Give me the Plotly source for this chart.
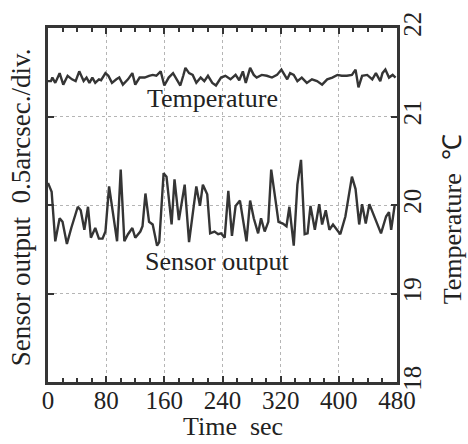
import plotly.graph_objects as go

# sensor output (drawn on the 18-22 scale of the right axis, 0.5 arcsec/div)
sensor_t = [0, 5, 10, 16, 20, 26, 32, 41, 45, 50, 55, 59, 65, 70, 75, 79, 84, 90, 95, 100,
            105, 110, 116, 120, 127, 130, 134, 139, 144, 150, 153, 159, 163, 170, 174, 180, 188, 194, 204, 209,
            213, 219, 223, 229, 234, 238, 243, 248, 253, 258, 264, 273, 278, 283, 289, 293, 298, 303, 307, 313,
            317, 323, 328, 332, 338, 343, 348, 353, 357, 361, 367, 373, 377, 382, 387, 392, 402, 409, 418, 423,
            428, 432, 437, 442, 448, 458, 465, 469, 472, 477]
sensor_v = [20.25, 20.15, 19.59, 19.85, 19.81, 19.56, 19.74, 19.98, 19.94, 19.72, 19.98, 19.63, 19.74, 19.62, 19.62, 19.70, 20.21, 19.87, 19.59, 20.40,
            19.59, 19.67, 19.74, 19.63, 19.70, 19.76, 20.13, 19.81, 19.78, 19.54, 19.58, 20.36, 20.32, 19.78, 20.29, 19.83, 20.23, 19.58, 20.21, 19.99,
            20.23, 20.12, 19.68, 19.70, 19.67, 19.68, 19.63, 20.16, 19.65, 19.99, 20.05, 19.59, 20.05, 19.85, 19.68, 19.85, 19.70, 19.81, 20.40, 20.05,
            19.81, 19.79, 19.76, 19.98, 19.54, 20.23, 20.51, 19.67, 19.68, 19.99, 19.72, 20.01, 19.78, 19.94, 19.72, 19.78, 19.67, 19.87, 20.32, 20.18,
            19.78, 20.01, 19.79, 20.01, 19.89, 19.68, 19.87, 19.92, 19.72, 20.01]

# temperature, deg C
temp_t = [0, 4, 6, 10, 16, 21, 27, 33, 38, 43, 49, 53, 57, 61, 65, 70, 73, 79, 83, 88,
          94, 98, 103, 110, 116, 120, 126, 133, 139, 144, 149, 155, 160, 166, 172, 178, 182, 186, 189, 194,
          199, 204, 210, 215, 220, 226, 231, 238, 244, 251, 258, 263, 268, 272, 278, 283, 287, 294, 301, 308,
          315, 321, 326, 329, 333, 338, 343, 349, 356, 363, 370, 377, 384, 391, 398, 404, 411, 418, 423, 427,
          432, 439, 446, 451, 457, 460, 464, 469, 474, 478]
temp_v = [21.40, 21.40, 21.44, 21.38, 21.49, 21.36, 21.46, 21.42, 21.40, 21.51, 21.40, 21.44, 21.38, 21.44, 21.38, 21.42, 21.41, 21.49, 21.46, 21.38,
          21.42, 21.44, 21.36, 21.42, 21.49, 21.36, 21.44, 21.44, 21.46, 21.47, 21.46, 21.51, 21.35, 21.44, 21.49, 21.40, 21.35, 21.46, 21.55, 21.49,
          21.47, 21.38, 21.44, 21.40, 21.46, 21.38, 21.35, 21.44, 21.46, 21.42, 21.47, 21.41, 21.51, 21.38, 21.55, 21.47, 21.44, 21.47, 21.46, 21.44,
          21.47, 21.53, 21.46, 21.42, 21.49, 21.47, 21.40, 21.44, 21.38, 21.42, 21.40, 21.36, 21.42, 21.44, 21.47, 21.46, 21.46, 21.47, 21.53, 21.33,
          21.46, 21.47, 21.42, 21.49, 21.40, 21.49, 21.53, 21.44, 21.47, 21.44]

x_ticks = [0, 80, 160, 240, 320, 400, 480]
y_ticks = [18, 19, 20, 21, 22]

FONT = "Liberation Serif, Times New Roman, serif"
INK = "#353535"

fig = go.Figure()
fig.add_trace(go.Scatter(x=temp_t, y=temp_v, mode="lines",
                         line=dict(color=INK, width=2.4), showlegend=False))
fig.add_trace(go.Scatter(x=sensor_t, y=sensor_v, mode="lines",
                         line=dict(color=INK, width=2.4), showlegend=False))

fig.update_xaxes(range=[0, 480], tickvals=x_ticks, ticktext=[str(v) for v in x_ticks],
                 ticks="inside", ticklen=6, tickcolor=INK, tickwidth=1.5,
                 minor=dict(dtick=20, ticks="inside", ticklen=4, tickcolor=INK, showgrid=False),
                 showline=True, linewidth=3, linecolor=INK, mirror="ticks",
                 showgrid=True, gridcolor="#b5b5b5", griddash="dot", gridwidth=1,
                 zeroline=False, ticklabelstandoff=-6,
                 tickfont=dict(family=FONT, size=25, color="#222"))
fig.update_yaxes(range=[18, 22], tickvals=y_ticks, side="right", tickangle=-90,
                 ticks="inside", ticklen=6, tickcolor=INK, tickwidth=1.5,
                 showline=True, linewidth=3, linecolor=INK, mirror="ticks",
                 showgrid=True, gridcolor="#b5b5b5", griddash="dot", gridwidth=1,
                 zeroline=False, ticklabelstandoff=-9,
                 tickfont=dict(family=FONT, size=25, color="#222"))

txt = dict(family=FONT, size=26, color="#222")
fig.add_annotation(x=0.47, y=0.80, xref="paper", yref="paper", text="Temperature",
                   showarrow=False, font=txt, xanchor="center", yanchor="middle")
fig.add_annotation(x=0.487, y=0.34, xref="paper", yref="paper", text="Sensor output",
                   showarrow=False, font=txt, xanchor="center", yanchor="middle")
fig.add_annotation(x=0.53, y=-0.126, xref="paper", yref="paper", text="Time  sec",
                   showarrow=False, font=txt, xanchor="center", yanchor="middle")
fig.add_annotation(x=-0.075, y=0.493, xref="paper", yref="paper", text="Sensor output  0.5arcsec./div.",
                   showarrow=False, font=dict(family=FONT, size=27, color="#222"),
                   textangle=-90, xanchor="center", yanchor="middle")
fig.add_annotation(x=1.158, y=0.46, xref="paper", yref="paper", text="Temperature  ℃",
                   showarrow=False, font=txt, textangle=-90, xanchor="center", yanchor="middle")

fig.update_layout(width=468, height=444,
                  margin=dict(l=48, r=71, t=17, b=62),
                  plot_bgcolor="white", paper_bgcolor="white")

# drop the page's default body margin so the figure sits at the window's corner
fig.write_html("out.html", config={"displayModeBar": False},
               post_script="document.body.style.margin='0';")
